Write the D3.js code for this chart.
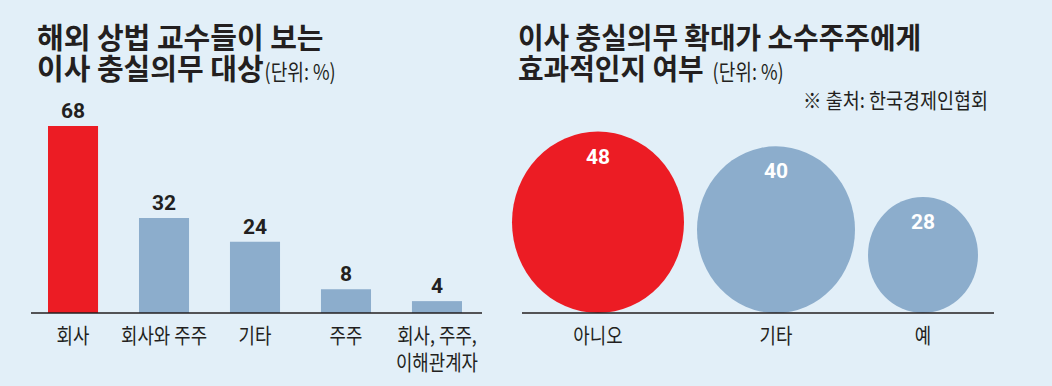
<!DOCTYPE html>
<html>
<head>
<meta charset="utf-8">
<script src="https://cdn.jsdelivr.net/npm/d3@7"></script>
<style>
  html, body { margin: 0; padding: 0; background: #e2eff8; }
  svg { display: block; }
  text { font-family: "Noto Sans CJK KR", sans-serif; fill: #231f20; }
  .title { font-weight: 700; font-size: 29px; }
  .unit { font-size: 22px; }
  .cat { font-size: 21px; }
  .val { font-family: Roboto, sans-serif; font-weight: 700; font-size: 21px; }
</style>
</head>
<body>
<div id="wrapper"></div>
<script>
// left panel: 해외 상법 교수들이 보는 이사 충실의무 대상
const barCats = ["회사", "회사와 주주", "기타", "주주", "회사, 주주, 이해관계자"]
const barLabelLines = [["회사"], ["회사와 주주"], ["기타"], ["주주"], ["회사, 주주,", "이해관계자"]]
const barValues = [68, 32, 24, 8, 4]

// right panel: 이사 충실의무 확대가 소수주주에게 효과적인지 여부
const bubbleCats = ["아니오", "기타", "예"]
const bubbleValues = [48, 40, 28]

const titleLeft = ["해외 상법 교수들이 보는", "이사 충실의무 대상"]
const titleRight = ["이사 충실의무 확대가 소수주주에게", "효과적인지 여부"]
const unitText = "(단위: %)"
const sourceText = "※ 출처: 한국경제인협회"

const red = "#ec1c24"
const blue = "#8cadcc"

const width = 1052
const height = 386
const baseY = 313

const svg = d3.select("#wrapper")
  .append("svg")
    .attr("width", width)
    .attr("height", height)

svg.append("rect")
  .attr("width", width)
  .attr("height", height)
  .attr("fill", "#e2eff8")

// squeeze text horizontally, the original uses a condensed gothic
const squeeze = (sel, k) => sel.each(function() {
  const len = this.getComputedTextLength()
  d3.select(this)
    .attr("textLength", len * k)
    .attr("lengthAdjust", "spacingAndGlyphs")
})

// titles
const drawTitle = (lines, x, k, gapUnit) => {
  const g = svg.append("g")
  const t = g.selectAll("text.title")
    .data(lines)
    .join("text")
      .attr("class", "title")
      .attr("x", x)
      .attr("y", (d, i) => 49 + i * 31)
      .text(d => d)
  squeeze(t, k)
  const last = t.nodes()[lines.length - 1]
  const u = g.append("text")
    .attr("class", "unit")
    .attr("x", x + (+last.getAttribute("textLength")) + gapUnit)
    .attr("y", 80)
    .text(unitText)
  squeeze(u, 0.82)
}
drawTitle(titleLeft, 37, 1.0, 1)
drawTitle(titleRight, 518, 0.96, 9)

const src = svg.append("text")
  .attr("class", "cat")
  .attr("x", 988)
  .attr("y", 108)
  .attr("text-anchor", "end")
  .text(sourceText)
squeeze(src, 0.88)

// bars
const x = d3.scaleBand()
  .domain(barCats)
  .range([48, 462])
  .paddingInner(0.45)
  .paddingOuter(0)

const y = d3.scaleLinear()
  .domain([0, 32, 68])
  .range([baseY, 218, 126])

const bars = svg.append("g")

bars.selectAll("rect")
  .data(barValues)
  .join("rect")
    .attr("x", (d, i) => x(barCats[i]))
    .attr("y", d => y(d))
    .attr("width", x.bandwidth())
    .attr("height", d => baseY - y(d))
    .attr("fill", (d, i) => i == 0 ? red : blue)

bars.selectAll("text.val")
  .data(barValues)
  .join("text")
    .attr("class", "val")
    .attr("x", (d, i) => x(barCats[i]) + x.bandwidth() / 2)
    .attr("y", d => y(d) - 8)
    .attr("text-anchor", "middle")
    .text(d => d)

const barLabels = bars.selectAll("text.cat")
  .data(barLabelLines.flatMap((lines, i) => lines.map((l, j) => ({cat: barCats[i], line: l, j}))))
  .join("text")
    .attr("class", "cat")
    .attr("x", d => x(d.cat) + x.bandwidth() / 2)
    .attr("y", d => 343 + d.j * 27)
    .attr("text-anchor", "middle")
    .text(d => d.line)
squeeze(barLabels, 0.85)

svg.append("line")
  .attr("x1", 31).attr("x2", 482)
  .attr("y1", baseY).attr("y2", baseY)
  .attr("stroke", "#231f20")
  .attr("stroke-width", 1.5)

// bubbles
const r = d3.scaleLinear()
  .domain([28, 40, 48])
  .range([55, 79, 86])

const gap = 13
const stretch = 1.055
let cursor = 512
const bubbleData = bubbleValues.map((v, i) => {
  const rx = r(v)
  const cx = cursor + rx
  cursor = cx + rx + gap
  return {cat: bubbleCats[i], value: v, rx, ry: rx * stretch, cx}
})

const bubbles = svg.append("g")

bubbles.selectAll("ellipse")
  .data(bubbleData)
  .join("ellipse")
    .attr("cx", d => d.cx)
    .attr("cy", d => baseY - d.ry)
    .attr("rx", d => d.rx)
    .attr("ry", d => d.ry)
    .attr("fill", (d, i) => i == 0 ? red : blue)

bubbles.selectAll("text.val")
  .data(bubbleData)
  .join("text")
    .attr("class", "val")
    .attr("x", d => d.cx)
    .attr("y", d => baseY - 2 * d.ry + 32)
    .attr("text-anchor", "middle")
    .style("fill", "#fff")
    .text(d => d.value)

const bubbleLabels = bubbles.selectAll("text.cat")
  .data(bubbleData)
  .join("text")
    .attr("class", "cat")
    .attr("x", d => d.cx)
    .attr("y", 343)
    .attr("text-anchor", "middle")
    .text(d => d.cat)
squeeze(bubbleLabels, 0.85)

svg.append("line")
  .attr("x1", 522).attr("x2", 994)
  .attr("y1", baseY).attr("y2", baseY)
  .attr("stroke", "#231f20")
  .attr("stroke-width", 1.5)
</script>
</body>
</html>
